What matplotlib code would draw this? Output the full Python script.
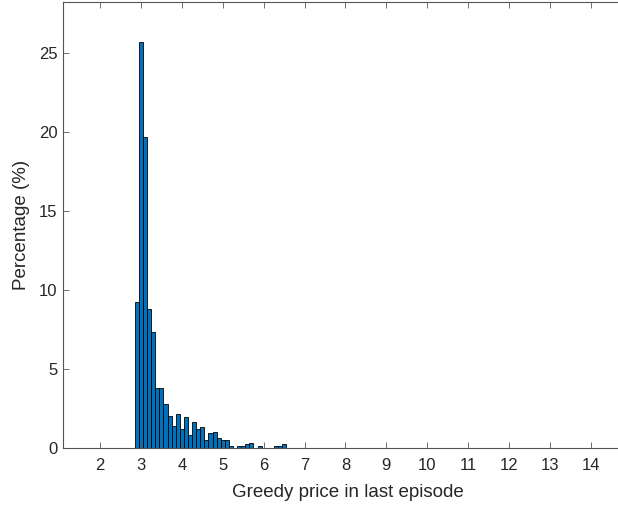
import matplotlib.pyplot as plt

# histogram: bin centres (width 0.1) and percentage per bin
bin_centers = [2.9, 3.0, 3.1, 3.2, 3.3, 3.4, 3.5, 3.6, 3.7, 3.8,
               3.9, 4.0, 4.1, 4.2, 4.3, 4.4, 4.5, 4.6, 4.7, 4.8,
               4.9, 5.0, 5.1, 5.2, 5.3, 5.4, 5.5, 5.6, 5.7, 5.8,
               5.9, 6.0, 6.1, 6.2, 6.3, 6.4, 6.5]
percent = [9.27, 25.66, 19.66, 8.79, 7.33, 3.79, 3.79, 2.78, 2.04, 1.43,
           2.15, 1.22, 2.00, 0.84, 1.64, 1.20, 1.33, 0.52, 0.95, 1.01,
           0.63, 0.52, 0.52, 0.13, 0.0, 0.13, 0.13, 0.25, 0.32, 0.0,
           0.13, 0.0, 0.0, 0.0, 0.13, 0.13, 0.27]
bin_width = 0.1

xticks = [2, 3, 4, 5, 6, 7, 8, 9, 10, 11, 12, 13, 14]
yticks = [0, 5, 10, 15, 20, 25]

plt.rcParams['font.family'] = ['Liberation Sans', 'DejaVu Sans']
axcol = '#262626'

fig = plt.figure(figsize=(6.18, 5.08), dpi=100)
ax = fig.add_axes([63.3 / 618, 59.7 / 508, 568.4 / 618, 446.6 / 508])

ax.bar(bin_centers, percent, width=bin_width, color='#0072BD',
       edgecolor='black', linewidth=0.6)

ax.set_xlim(1.1, 15.0)
ax.set_ylim(0, 28.23)
ax.set_xticks(xticks)
ax.set_yticks(yticks)
ax.tick_params(direction='in', length=4.5, width=0.6, color='#555555',
               labelsize=12, labelcolor=axcol, top=True, right=True)
ax.tick_params(axis='x', pad=7)
ax.tick_params(axis='y', pad=4)
for s in ax.spines.values():
    s.set_color('#555555')
    s.set_linewidth(0.8)

ax.set_xlabel('Greedy price in last episode', fontsize=13.5, color=axcol, labelpad=8)
ax.set_ylabel('Percentage (%)', fontsize=13.5, color=axcol, labelpad=6.5)

fig.savefig('out.png', dpi=100)
